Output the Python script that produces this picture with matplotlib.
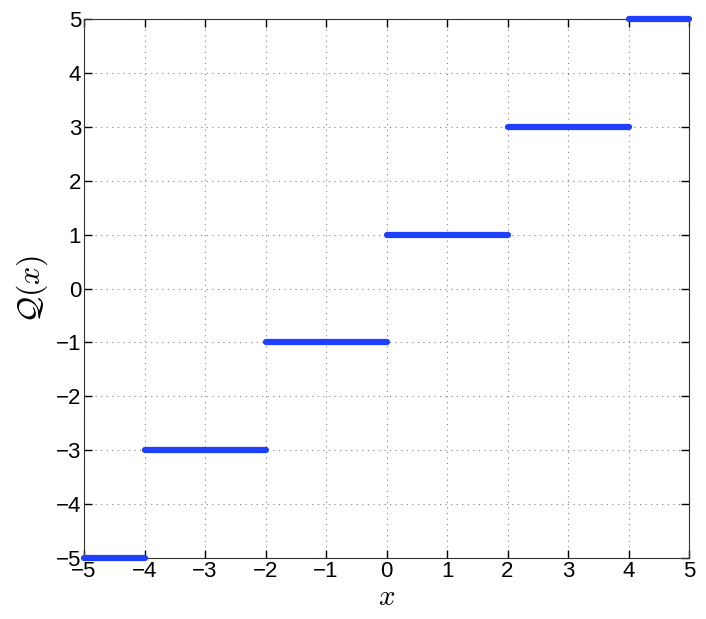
import numpy as np
import matplotlib
matplotlib.use("Agg")
import matplotlib.pyplot as plt

# step levels of the quantizer Q(x)
seg_start = [-5, -4, -2, 0, 2, 4]
seg_end = [-4, -2, 0, 2, 4, 5]
seg_level = [-5, -3, -1, 1, 3, 5]

plt.rcParams['font.family'] = ['Liberation Sans', 'DejaVu Sans']
plt.rcParams['mathtext.fontset'] = 'cm'

fig = plt.figure(figsize=(7.06, 6.19), dpi=100)
ax = fig.add_axes([0.119, 0.0985, 0.857, 0.8705])

for a, b, q in zip(seg_start, seg_end, seg_level):
    ax.plot([a, b], [q, q], color="#2040ff", linewidth=4.5, solid_capstyle="round",
            clip_on=False, zorder=3)

ax.set_xlim(-5, 5)
ax.set_ylim(-5, 5)
ax.set_xticks(range(-5, 6))
ax.set_yticks(range(-5, 6))
ax.grid(True, linestyle=(0, (1, 4)), color="#808080", linewidth=0.8)
ax.tick_params(direction="in", top=True, right=True, labelsize=16, length=6, width=1, pad=2)
for s in ax.spines.values():
    s.set_color("#333333")

ax.set_xlabel(r"$x$", fontsize=21, labelpad=1)
ax.set_ylabel(r"$\mathcal{Q}(x)$", fontsize=23, labelpad=4)

fig.savefig("out.png", dpi=100)
